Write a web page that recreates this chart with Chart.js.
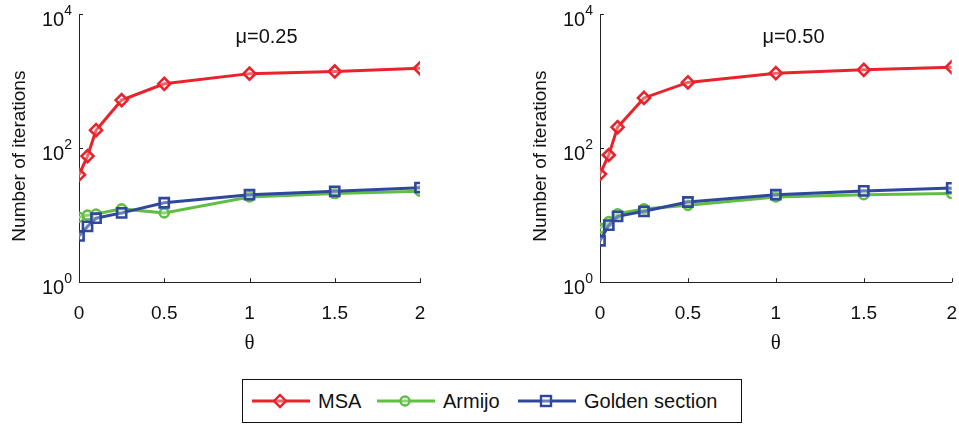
<!DOCTYPE html>
<html>
<head>
<meta charset="utf-8">
<script src="https://cdn.jsdelivr.net/npm/chart.js@4/dist/chart.umd.min.js"></script>
<style>
  body { margin: 0; background: #fff; width: 959px; height: 426px; overflow: hidden; position: relative;
         font-family: "Liberation Sans", Arial, sans-serif; }
  .panel { position: absolute; top: 0; height: 360px; }
  #legend { position: absolute; left: 242px; top: 379px; width: 500px; height: 44px; border: 1.5px solid #111;
            box-sizing: border-box; display: flex; align-items: center; font-size: 20px; color: #111; }
  .item { display: flex; align-items: center; position: absolute; top: 0; height: 100%; }
  .item svg { margin-right: 8px; }
</style>
</head>
<body>
<div class="panel" style="left:0;width:480px"><canvas id="left"></canvas></div>
<div class="panel" style="left:480px;width:489px"><canvas id="right"></canvas></div>
<div id="legend"></div>
<script>
// theta values on the x axis
const thetas = [0, 0.05, 0.1, 0.25, 0.5, 1, 1.5, 2];

// mu = 0.25
const msa25 = [40, 76, 185, 520, 910, 1290, 1390, 1550];
const armijo25 = [9.3, 10, 10.4, 12.4, 10.8, 18.7, 21, 22.8];
const golden25 = [4.9, 6.8, 9, 10.8, 15.3, 20.2, 22.7, 25.7];

// mu = 0.50
const msa50 = [41, 79, 205, 560, 955, 1310, 1470, 1610];
const armijo50 = [6.4, 8, 10.5, 12.4, 14, 18.7, 20.2, 21];
const golden50 = [4.15, 7.1, 9.6, 11.4, 15.7, 20.2, 23, 25.5];

const xTicks = [0, 0.5, 1, 1.5, 2];
const yTicks = [1, 100, 10000];
const seriesNames = ["MSA", "Armijo", "Golden section"];

const RED = "#e8232b", GREEN = "#62bd45", BLUE = "#2f479c";
const AXIS = "#222";

function pts(ys) {
    return thetas.map((t, i) => ({ x: t, y: ys[i] }));
}

// y tick labels as 10 with superscript, inward tick marks, y title and panel title
const panelDecor = {
    id: "panelDecor",
    afterDraw(chart, args, opts) {
        const ctx = chart.ctx;
        const xs = chart.scales.x, ys = chart.scales.y;
        const area = chart.chartArea;
        ctx.save();
        ctx.strokeStyle = AXIS;
        ctx.lineWidth = 1;
        // inward ticks
        xTicks.forEach(v => {
            const px = Math.round(xs.getPixelForValue(v)) + 0.5;
            ctx.beginPath();
            ctx.moveTo(px, area.bottom);
            ctx.lineTo(px, area.bottom - 4);
            ctx.stroke();
        });
        yTicks.forEach(v => {
            const py = Math.round(ys.getPixelForValue(v)) + 0.5;
            ctx.beginPath();
            ctx.moveTo(area.left, py);
            ctx.lineTo(area.left + 4, py);
            ctx.stroke();
        });
        // tick labels 10^n
        ctx.fillStyle = "#111";
        ctx.textBaseline = "middle";
        yTicks.forEach(v => {
            const py = ys.getPixelForValue(v);
            const exp = String(Math.round(Math.log10(v)));
            ctx.font = "14px 'Liberation Sans', Arial, sans-serif";
            const ew = ctx.measureText(exp).width;
            ctx.font = "20px 'Liberation Sans', Arial, sans-serif";
            const bw = ctx.measureText("10").width;
            const right = area.left - 7;
            ctx.textAlign = "left";
            ctx.fillText("10", right - ew - bw, py + 6);
            ctx.font = "14px 'Liberation Sans', Arial, sans-serif";
            ctx.fillText(exp, right - ew, py - 3);
        });
        // y axis title
        ctx.save();
        ctx.translate(area.left - opts.titleOffset, (area.top + area.bottom) / 2 + 8);
        ctx.rotate(-Math.PI / 2);
        ctx.textAlign = "center";
        ctx.font = "19px 'Liberation Sans', Arial, sans-serif";
        ctx.fillText("Number of iterations", 0, 0);
        ctx.restore();
        // panel title
        ctx.textAlign = "center";
        ctx.font = "20px 'Liberation Sans', Arial, sans-serif";
        ctx.fillText(opts.title, xs.getPixelForValue(1.1), area.top + 23);
        ctx.restore();
    }
};

function makeChart(id, msa, armijo, golden, title, padLeft, padRight) {
    const common = { borderWidth: 3, pointBorderWidth: 2.6, pointBackgroundColor: "rgba(255,255,255,0.3)", tension: 0 };
    new Chart(document.getElementById(id), {
        type: "line",
        data: {
            datasets: [
                { ...common, label: seriesNames[0], data: pts(msa), borderColor: RED, pointBorderColor: RED,
                  pointStyle: "rectRot", pointRadius: 6, order: 1 },
                { ...common, label: seriesNames[1], data: pts(armijo), borderColor: GREEN, pointBorderColor: GREEN,
                  pointStyle: "circle", pointRadius: 4.5, order: 2 },
                { ...common, label: seriesNames[2], data: pts(golden), borderColor: BLUE, pointBorderColor: BLUE,
                  pointStyle: "rect", pointRadius: 6.5, order: 0 }
            ]
        },
        options: {
            responsive: true,
            maintainAspectRatio: false,
            animation: false,
            layout: { padding: { left: padLeft, right: padRight, top: 14, bottom: 6 } },
            plugins: {
                legend: { display: false },
                tooltip: { enabled: false },
                panelDecor: { title: title, titleOffset: 59 }
            },
            scales: {
                x: {
                    type: "linear", min: 0, max: 2,
                    afterBuildTicks: s => { s.ticks = xTicks.map(v => ({ value: v })); },
                    grid: { display: false },
                    border: { display: true, color: AXIS, width: 1 },
                    ticks: { color: "#111", padding: 12, font: { family: "'Liberation Sans', Arial, sans-serif", size: 19 },
                             maxRotation: 0, callback: v => String(v) },
                    title: { display: true, text: "θ", color: "#111", padding: { top: -4, bottom: 0 },
                             font: { family: "'Liberation Serif', serif", size: 21, lineHeight: 1 } }
                },
                y: {
                    type: "logarithmic", min: 1, max: 10000,
                    afterBuildTicks: s => { s.ticks = yTicks.map(v => ({ value: v })); },
                    grid: { display: false },
                    border: { display: true, color: AXIS, width: 1 },
                    ticks: { display: false }
                }
            }
        },
        plugins: [panelDecor]
    });
}

makeChart("left", msa25, armijo25, golden25, "μ=0.25", 71, 60);
makeChart("right", msa50, armijo50, golden50, "μ=0.50", 112, 0);

// legend
const legendItems = [
    { name: seriesNames[0], color: RED, left: 9, marker: '<polygon points="28,2 34,8 28,14 22,8" />' },
    { name: seriesNames[1], color: GREEN, left: 134, marker: '<circle cx="28" cy="8" r="4.5" />' },
    { name: seriesNames[2], color: BLUE, left: 275, marker: '<rect x="23" y="3" width="10" height="10" />' }
];
const legend = document.getElementById("legend");
legendItems.forEach(it => {
    const d = document.createElement("div");
    d.className = "item";
    d.style.left = it.left + "px";
    d.innerHTML = '<svg width="58" height="16"><line x1="0" y1="8" x2="58" y2="8" stroke="' + it.color +
        '" stroke-width="3"/><g fill="rgba(255,255,255,0.3)" stroke="' + it.color + '" stroke-width="2.4">' +
        it.marker + '</g></svg><span>' + it.name + '</span>';
    legend.appendChild(d);
});
</script>
</body>
</html>
